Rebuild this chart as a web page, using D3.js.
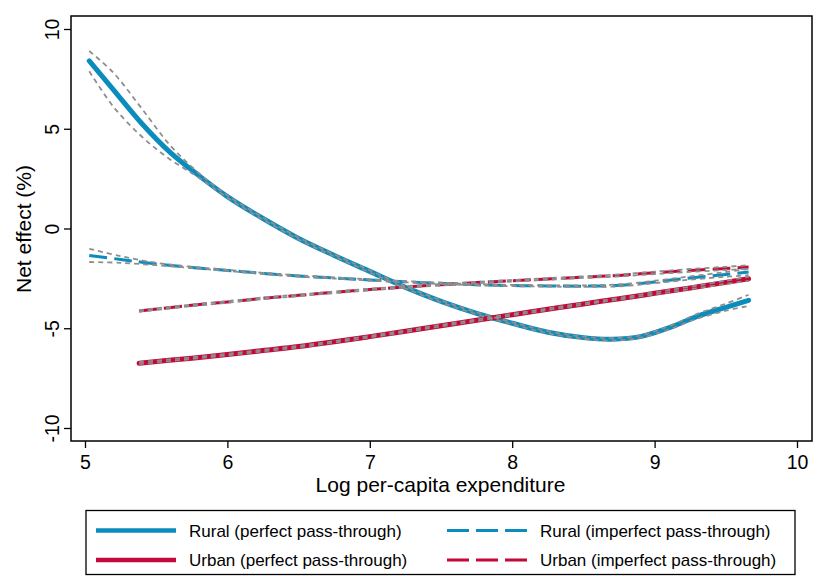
<!DOCTYPE html>
<html>
<head>
<meta charset="utf-8">
<script src="https://cdn.jsdelivr.net/npm/d3@7"></script>
<style>
  body { margin: 0; background: #fff; }
  svg { display: block; font-family: "Liberation Sans", Arial, sans-serif; }
</style>
</head>
<body>
<svg></svg>
<script>
var width = 813,
    height = 577;
var svg = d3.select("svg")
    .attr("width", width)
    .attr("height", height);

// data
var ruralX = [5.03, 5.2, 5.4, 5.6, 5.8, 6.0, 6.25, 6.5, 6.75, 7.0, 7.25, 7.5, 7.75, 8.0, 8.25, 8.5, 8.7, 8.9, 9.1, 9.3, 9.5, 9.66];
var ruralPerfect = [8.4, 6.95, 5.25, 3.8, 2.65, 1.6, 0.5, -0.5, -1.35, -2.15, -2.95, -3.65, -4.25, -4.75, -5.2, -5.47, -5.55, -5.42, -4.98, -4.4, -3.95, -3.6];
var ruralPerfectHi = [8.9, 7.8, 6.0, 4.15, 2.77, 1.66, 0.55, -0.45, -1.3, -2.1, -2.9, -3.6, -4.2, -4.7, -5.15, -5.42, -5.49, -5.36, -4.9, -4.28, -3.77, -3.32];
var ruralPerfectLo = [7.88, 6.1, 4.6, 3.45, 2.55, 1.54, 0.45, -0.55, -1.4, -2.2, -3.0, -3.7, -4.3, -4.8, -5.25, -5.52, -5.61, -5.48, -5.06, -4.52, -4.12, -3.88];

var ruralImpX = [5.03, 5.25, 5.5, 5.75, 6.0, 6.25, 6.5, 6.75, 7.0, 7.25, 7.5, 7.75, 8.0, 8.25, 8.5, 8.75, 9.0, 9.25, 9.5, 9.66];
var ruralImperfect = [-1.35, -1.55, -1.78, -1.95, -2.1, -2.25, -2.38, -2.48, -2.58, -2.67, -2.75, -2.82, -2.86, -2.88, -2.89, -2.85, -2.68, -2.48, -2.3, -2.18];
var ruralImperfectHi = [-1.02, -1.38, -1.72, -1.92, -2.07, -2.22, -2.35, -2.45, -2.55, -2.64, -2.72, -2.79, -2.83, -2.85, -2.85, -2.8, -2.62, -2.4, -2.18, -2.02];
var ruralImperfectLo = [-1.68, -1.72, -1.84, -1.98, -2.13, -2.28, -2.41, -2.51, -2.61, -2.7, -2.78, -2.85, -2.89, -2.91, -2.93, -2.9, -2.74, -2.56, -2.42, -2.34];

var urbanX = [5.38, 5.75, 6.0, 6.25, 6.5, 6.75, 7.0, 7.25, 7.5, 7.75, 8.0, 8.25, 8.5, 8.75, 9.0, 9.25, 9.5, 9.66];
var urbanPerfect = [-6.75, -6.5, -6.32, -6.12, -5.92, -5.68, -5.42, -5.15, -4.87, -4.6, -4.32, -4.05, -3.78, -3.52, -3.25, -2.98, -2.7, -2.52];
var urbanPerfectHi = [-6.7, -6.46, -6.28, -6.08, -5.88, -5.64, -5.38, -5.11, -4.83, -4.56, -4.28, -4.01, -3.74, -3.48, -3.2, -2.92, -2.62, -2.42];
var urbanPerfectLo = [-6.8, -6.54, -6.36, -6.16, -5.96, -5.72, -5.46, -5.19, -4.91, -4.64, -4.36, -4.09, -3.82, -3.56, -3.3, -3.04, -2.78, -2.62];
var urbanImperfect = [-4.13, -3.85, -3.68, -3.5, -3.35, -3.2, -3.06, -2.93, -2.82, -2.71, -2.62, -2.53, -2.44, -2.35, -2.22, -2.1, -2.0, -1.93];
var urbanImperfectHi = [-4.09, -3.81, -3.64, -3.46, -3.31, -3.16, -3.02, -2.89, -2.78, -2.67, -2.58, -2.49, -2.4, -2.3, -2.16, -2.03, -1.92, -1.84];
var urbanImperfectLo = [-4.17, -3.89, -3.72, -3.54, -3.39, -3.24, -3.1, -2.97, -2.86, -2.75, -2.66, -2.57, -2.48, -2.4, -2.28, -2.17, -2.08, -2.02];

var xTicks = [5, 6, 7, 8, 9, 10];
var yTicks = [-10, -5, 0, 5, 10];
var legendLabels = ["Rural (perfect pass-through)", "Rural (imperfect pass-through)",
                    "Urban (perfect pass-through)", "Urban (imperfect pass-through)"];

var blue = "#0a8cbd",
    red = "#c3093a",
    grey = "#8e8e8e";

// frame of the plot region
var frame = {left: 71, top: 16, right: 812, bottom: 441};

var x = d3.scaleLinear()
    .domain([5, 10])
    .range([85, 797]);
var y = d3.scaleLinear()
    .domain([-10, 10])
    .range([428, 29]);

var line = d3.line()
    .x(d => x(d[0]))
    .y(d => y(d[1]))
    .curve(d3.curveCatmullRom.alpha(0.5));

function zip(xs, ys) {
    return xs.map((v, i) => [v, ys[i]]);
}

svg.append("rect")
    .attr("x", frame.left)
    .attr("y", frame.top)
    .attr("width", frame.right - frame.left)
    .attr("height", frame.bottom - frame.top)
    .attr("fill", "none")
    .attr("stroke", "#000")
    .attr("stroke-width", 1.5);

// axes (plain hyphen for negatives, like the original)
var yAxis = svg.append("g")
    .attr("transform", "translate(" + frame.left + ",0)")
    .call(d3.axisLeft(y).tickValues(yTicks).tickSize(7).tickFormat(d => String(d)));
yAxis.select(".domain").remove();
yAxis.selectAll("line").attr("stroke-width", 1.3);
yAxis.selectAll("text")
    .attr("transform", "rotate(-90)")
    .attr("x", 0)
    .attr("y", -12)
    .attr("dy", 0)
    .attr("text-anchor", "middle")
    .attr("fill", "#000")
    .style("font-size", "19.5px")
    .style("font-family", "Liberation Sans, Arial, sans-serif");

var xAxis = svg.append("g")
    .attr("transform", "translate(0," + frame.bottom + ")")
    .call(d3.axisBottom(x).tickValues(xTicks).tickSize(7).tickFormat(d => String(d)));
xAxis.select(".domain").remove();
xAxis.selectAll("line").attr("stroke-width", 1.3);
xAxis.selectAll("text")
    .attr("y", 28)
    .attr("dy", 0)
    .attr("fill", "#000")
    .style("font-size", "19.5px")
    .style("font-family", "Liberation Sans, Arial, sans-serif");

svg.append("text")
    .attr("x", 440.5)
    .attr("y", 492)
    .attr("text-anchor", "middle")
    .style("font-size", "21px")
    .text("Log per-capita expenditure");

svg.append("text")
    .attr("transform", "translate(31,229) rotate(-90)")
    .attr("text-anchor", "middle")
    .style("font-size", "21px")
    .text("Net effect (%)");

// main lines
var series = [
    {xs: ruralX, ys: ruralPerfect, color: blue, w: 5, dash: null},
    {xs: ruralImpX, ys: ruralImperfect, color: blue, w: 3, dash: "18,7"},
    {xs: urbanX, ys: urbanPerfect, color: red, w: 5, dash: null},
    {xs: urbanX, ys: urbanImperfect, color: red, w: 3, dash: "18,7"}
];
svg.append("g").selectAll("path")
    .data(series)
    .enter()
    .append("path")
    .attr("d", d => line(zip(d.xs, d.ys)))
    .attr("fill", "none")
    .attr("stroke", d => d.color)
    .attr("stroke-width", d => d.w)
    .attr("stroke-dasharray", d => d.dash)
    .attr("stroke-linecap", d => d.dash ? "butt" : "round");

// confidence bands (grey short dashes)
var bands = [
    zip(ruralX, ruralPerfectHi), zip(ruralX, ruralPerfectLo),
    zip(ruralImpX, ruralImperfectHi), zip(ruralImpX, ruralImperfectLo),
    zip(urbanX, urbanPerfectHi), zip(urbanX, urbanPerfectLo),
    zip(urbanX, urbanImperfectHi), zip(urbanX, urbanImperfectLo)
];
svg.append("g").selectAll("path")
    .data(bands)
    .enter()
    .append("path")
    .attr("d", line)
    .attr("fill", "none")
    .attr("stroke", grey)
    .attr("stroke-width", 1.8)
    .attr("stroke-dasharray", "5,4");

// legend
svg.append("rect")
    .attr("x", 86)
    .attr("y", 510.5)
    .attr("width", 709)
    .attr("height", 64)
    .attr("fill", "none")
    .attr("stroke", "#000")
    .attr("stroke-width", 1.3);

var legendItems = [
    {label: legendLabels[0], color: blue, w: 4.5, dash: null, x: 96, y: 530.5},
    {label: legendLabels[1], color: blue, w: 2.8, dash: "22,7", x: 447, y: 530.5},
    {label: legendLabels[2], color: red, w: 4.5, dash: null, x: 96, y: 560},
    {label: legendLabels[3], color: red, w: 2.8, dash: "22,7", x: 447, y: 560}
];
var leg = svg.append("g").selectAll("g")
    .data(legendItems)
    .enter()
    .append("g")
    .attr("transform", d => "translate(" + d.x + "," + d.y + ")");
leg.append("line")
    .attr("x1", 0)
    .attr("x2", 80)
    .attr("stroke", d => d.color)
    .attr("stroke-width", d => d.w)
    .attr("stroke-dasharray", d => d.dash);
leg.append("text")
    .attr("x", 93)
    .attr("y", 6)
    .style("font-size", "17px")
    .text(d => d.label);
</script>
</body>
</html>
